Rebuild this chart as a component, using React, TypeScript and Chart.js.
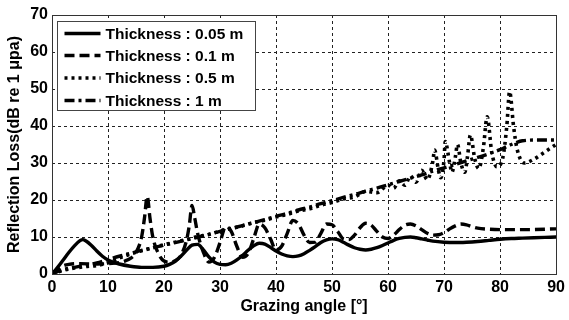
import { useEffect, useRef } from 'react';
import { Chart, registerables } from 'chart.js';

Chart.register(...registerables);

// ---- data ----
const seriesLabels = ['Thickness : 0.05 m', 'Thickness : 0.1 m', 'Thickness : 0.5 m', 'Thickness : 1 m'];

const solidAngles = [0, 1, 2, 3, 4, 5, 5.5, 6, 7, 8, 9, 10, 12, 14, 16, 18, 20, 21, 22, 23, 24, 25, 26, 27, 28, 29, 30, 31, 32, 33, 34, 35, 36, 37, 38, 39, 40, 41, 42, 43, 44, 45, 46, 47, 48, 49, 50, 51, 52, 53, 54, 55, 56, 57, 58, 59, 60, 61, 62, 63, 64, 65, 66, 67, 68, 70, 72, 74, 76, 78, 80, 82, 84, 86, 88, 90];
const solidLoss = [0, 1.8, 3.8, 5.8, 7.6, 9.0, 9.3, 9.0, 7.8, 6.2, 4.8, 3.8, 2.7, 2.1, 1.8, 1.8, 2.1, 2.6, 3.4, 4.8, 6.4, 7.8, 8.0, 6.6, 4.6, 3.2, 2.6, 2.5, 2.9, 3.8, 5.0, 6.4, 7.6, 8.3, 8.1, 7.2, 6.2, 5.4, 4.9, 4.7, 4.9, 5.5, 6.4, 7.4, 8.5, 9.2, 9.5, 9.3, 8.6, 7.8, 7.1, 6.7, 6.5, 6.7, 7.1, 7.7, 8.4, 9.1, 9.6, 9.9, 10.0, 9.8, 9.5, 9.2, 8.9, 8.6, 8.5, 8.6, 8.8, 9.1, 9.4, 9.6, 9.7, 9.8, 9.9, 10.0];

const dashedAngles = [0, 1, 2, 3, 5, 8, 10, 12, 13, 14, 15, 16, 16.5, 17, 17.5, 18, 19, 20, 21, 22, 23, 24, 24.5, 25, 25.5, 26, 27, 28, 29, 30, 31, 32, 33, 34, 35, 36, 37, 38, 39, 40, 41, 42, 43, 44, 45, 46, 47, 48, 49, 50, 51, 52, 53, 54, 55, 56, 57, 58, 59, 60, 61, 62, 63, 64, 65, 66, 67, 68, 69, 70, 71, 72, 73, 74, 75, 76, 78, 80, 85, 90];
const dashedLoss = [0, 1.2, 2.2, 2.6, 2.8, 2.7, 2.8, 3.1, 3.5, 4.2, 5.8, 10, 15, 21, 15, 10, 5.5, 3.5, 3.2, 3.6, 5, 9, 13, 18.5, 15, 11, 6, 3.2, 4.5, 8.5, 12.8, 11.5, 7.5, 4.5, 5.5, 9.5, 13.5, 12.5, 9.5, 6.5, 7.5, 11, 14.5, 13.5, 10.5, 8.5, 8.6, 11, 13.5, 13.3, 11.5, 9.5, 9.3, 10.5, 12.5, 13.7, 13.2, 11.5, 10, 9.6, 10.5, 12, 13.2, 13.5, 13.0, 12, 11, 10.5, 10.6, 11.2, 12.2, 13, 13.5, 13.3, 12.8, 12.4, 12.1, 12.0, 12.0, 12.2];

const dottedAngles = [0, 2, 4, 6, 8, 10, 12, 14, 16, 18, 20, 22, 24, 26, 28, 30, 32, 34, 36, 38, 40, 42, 44, 46, 48, 50, 52, 54, 56, 58, 60, 61, 62, 63, 64, 65, 66, 67, 68, 68.3, 69, 69.4, 70, 70.2, 71, 71.4, 72, 72.4, 73, 73.7, 74.2, 74.7, 75.5, 76.2, 77, 77.7, 78.5, 79.4, 80.5, 81.2, 81.7, 82.4, 83, 84.3, 86, 88, 90];
const dottedLoss = [0, 1.0, 1.6, 2.0, 2.3, 3.0, 4.3, 5.4, 6.3, 7.1, 7.9, 8.6, 9.3, 10.1, 10.7, 11.6, 12.3, 13.0, 13.9, 14.5, 15.4, 16.1, 17.0, 17.6, 18.6, 19.3, 20.3, 20.8, 22.3, 22.0, 24.0, 23.2, 25.2, 24.0, 26.5, 24.8, 28, 25.5, 30.5, 33.5, 28, 26, 31, 35.8, 30, 27.5, 31.5, 35, 30, 27.5, 32, 37.6, 31, 28.5, 34, 42.5, 33, 29, 31.5, 40, 49.3, 40, 34, 30, 31, 33, 35];

const dashDotAngles = [0, 2, 4, 6, 8, 10, 12, 14, 16, 18, 20, 22, 24, 26, 28, 30, 32, 34, 36, 38, 40, 42, 44, 46, 48, 50, 52, 54, 56, 58, 60, 62, 64, 66, 68, 70, 72, 74, 76, 78, 80, 81, 82, 83, 84, 86, 88, 90];
const dashDotLoss = [0, 1.2, 1.8, 2.4, 3.0, 3.9, 4.8, 5.6, 6.4, 7.1, 7.8, 8.5, 9.2, 9.9, 10.7, 11.5, 12.3, 13.1, 13.9, 14.7, 15.6, 16.4, 17.3, 18.1, 19.0, 19.8, 20.7, 21.5, 22.4, 23.2, 24.1, 25.0, 25.9, 26.8, 27.8, 28.7, 29.6, 30.6, 31.5, 32.5, 33.6, 34.3, 35.0, 35.6, 36.0, 36.2, 36.2, 36.2];

const xTickValues = [0, 10, 20, 30, 40, 50, 60, 70, 80, 90];
const yTickValues = [0, 10, 20, 30, 40, 50, 60, 70];

const lineDashes: number[][] = [[], [10, 5], [3, 4], [10, 4, 3, 4]];
const lineWidths = [3.4, 3.4, 3.6, 3.4];

const FONT = '"Liberation Sans", Arial, sans-serif';

function toPoints(a: number[], v: number[]) {
  return a.map((x, i) => ({ x, y: v[i] }));
}

const framePlugin = {
  id: 'frame',
  afterDatasetsDraw(chart: any) {
    const { ctx, chartArea } = chart;
    const { left, top, right, bottom } = chartArea;
    ctx.save();
    ctx.strokeStyle = '#333';
    ctx.lineWidth = 1;
    ctx.setLineDash([]);
    ctx.strokeRect(Math.round(left) + 0.5, Math.round(top) + 0.5, Math.round(right - left), Math.round(bottom - top));
    ctx.restore();
  },
};

const legendPlugin = {
  id: 'insideLegend',
  afterDraw(chart: any) {
    const { ctx, chartArea } = chart;
    const x0 = chartArea.left + 5.5;
    const y0 = chartArea.top + 6.5;
    const w = 198;
    const h = 89;
    ctx.save();
    ctx.fillStyle = '#fff';
    ctx.fillRect(x0, y0, w, h);
    ctx.strokeStyle = '#444';
    ctx.lineWidth = 1;
    ctx.setLineDash([]);
    ctx.strokeRect(x0, y0, w, h);
    const rowY = [33, 55, 77.5, 100];
    chart.data.datasets.forEach((ds: any, i: number) => {
      const y = chartArea.top + rowY[i] - 15 + 0.5;
      ctx.beginPath();
      ctx.setLineDash(ds.borderDash || []);
      ctx.lineWidth = ds.borderWidth;
      ctx.strokeStyle = '#000';
      ctx.moveTo(x0 + 7, y);
      ctx.lineTo(x0 + 43, y);
      ctx.stroke();
      ctx.setLineDash([]);
      ctx.fillStyle = '#000';
      ctx.font = `bold 15.5px ${FONT}`;
      ctx.textBaseline = 'middle';
      ctx.fillText(ds.label, x0 + 48, y + 1);
    });
    ctx.restore();
  },
};

export default function App() {
  const ref = useRef<HTMLCanvasElement | null>(null);
  useEffect(() => {
    document.body.style.margin = '0';
    const canvas = ref.current;
    if (!canvas) return;
    const series = [
      toPoints(solidAngles, solidLoss),
      toPoints(dashedAngles, dashedLoss),
      toPoints(dottedAngles, dottedLoss),
      toPoints(dashDotAngles, dashDotLoss),
    ];
    const chart = new Chart(canvas, {
      type: 'line',
      data: {
        datasets: series.map((d, i) => ({
          label: seriesLabels[i],
          data: d,
          borderColor: '#000',
          backgroundColor: '#000',
          borderWidth: lineWidths[i],
          borderDash: lineDashes[i],
          pointRadius: 0,
          fill: false,
          cubicInterpolationMode: 'monotone' as const,
        })),
      },
      options: {
        responsive: false,
        animation: false,
        layout: { padding: { top: 15, right: 8, left: 0, bottom: 0 } },
        plugins: { legend: { display: false }, tooltip: { enabled: false } },
        scales: {
          x: {
            type: 'linear',
            min: 0,
            max: 90,
            afterFit: (s: any) => { s.height = 46; },
            afterBuildTicks: (s: any) => { s.ticks = xTickValues.map((v) => ({ value: v })); },
            ticks: { color: '#000', font: { family: FONT, size: 16, weight: 'bold' }, padding: 4, maxRotation: 0 },
            grid: { color: '#222', lineWidth: 1, drawTicks: false },
            border: { display: false, dash: [3, 3] },
            title: { display: true, text: 'Grazing angle [°]', color: '#000', font: { family: FONT, size: 16, weight: 'bold' }, padding: { top: 0, bottom: 4 } },
          },
          y: {
            type: 'linear',
            min: 0,
            max: 70,
            afterFit: (s: any) => { s.width = 52; },
            afterBuildTicks: (s: any) => { s.ticks = yTickValues.map((v) => ({ value: v })); },
            ticks: { color: '#000', font: { family: FONT, size: 16, weight: 'bold' }, padding: 4 },
            grid: { color: '#222', lineWidth: 1, drawTicks: false },
            border: { display: false, dash: [3, 3] },
            title: { display: true, text: 'Reflection Loss(dB re 1 μpa)', color: '#000', font: { family: FONT, size: 16, weight: 'bold' }, padding: { top: 5, bottom: 0 } },
          },
        },
      },
      plugins: [framePlugin, legendPlugin],
    } as any);
    return () => chart.destroy();
  }, []);
  return (
    <div style={{ width: 569, height: 320, background: '#fff' }}>
      <canvas ref={ref} width={569} height={320} />
    </div>
  );
}
